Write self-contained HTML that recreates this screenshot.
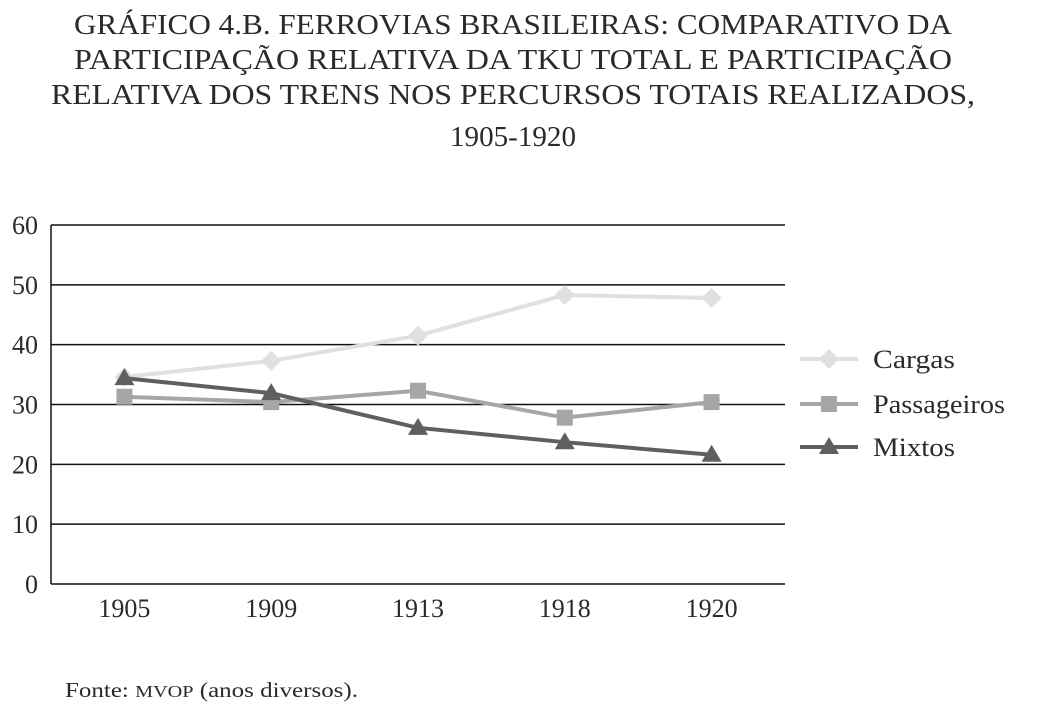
<!DOCTYPE html>
<html><head><meta charset="utf-8"><style>
body{margin:0;background:#fff;width:1040px;height:717px;overflow:hidden;font-family:"Liberation Serif",serif;color:#2a2a2a}
</style></head><body>
<svg width="1040" height="717" font-family="Liberation Serif, serif">
<g font-size="28" fill="#2a2a2a" text-anchor="middle">
<text x="513" y="34" textLength="878" lengthAdjust="spacingAndGlyphs">GRÁFICO 4.B. FERROVIAS BRASILEIRAS: COMPARATIVO DA</text>
<text x="513" y="69" textLength="878" lengthAdjust="spacingAndGlyphs">PARTICIPAÇÃO RELATIVA DA TKU TOTAL E PARTICIPAÇÃO</text>
<text x="513" y="104" textLength="924" lengthAdjust="spacingAndGlyphs">RELATIVA DOS TRENS NOS PERCURSOS TOTAIS REALIZADOS,</text>
<text x="513" y="146" textLength="126" lengthAdjust="spacingAndGlyphs">1905-1920</text>
</g>
<g id="grid"></g><g id="series"></g><g id="legend"></g>
<text x="65" y="697" font-size="21" fill="#2a2a2a" textLength="293" lengthAdjust="spacingAndGlyphs">Fonte: <tspan font-size="17">MVOP</tspan> (anos diversos).</text>
</svg>
<script>
const categories=["1905","1909","1913","1918","1920"];
const yTicks=[0,10,20,30,40,50,60];
const cargas=[34.6,37.3,41.5,48.3,47.8];
const passageiros=[31.3,30.4,32.3,27.8,30.4];
const mixtos=[34.4,31.9,26.1,23.7,21.6];
const names=["Cargas","Passageiros","Mixtos"];
const NS="http://www.w3.org/2000/svg";
const L=51,R=785,T=225,B=584;
const x=i=>L+(R-L)/categories.length*(i+0.5);
const y=v=>B-(B-T)*v/60;
function mk(tag,attrs,parent){const e=document.createElementNS(NS,tag);for(const k in attrs)e.setAttribute(k,attrs[k]);parent.appendChild(e);return e;}
const grid=document.getElementById('grid');
yTicks.forEach(t=>{
 const l=mk('line',{x1:L,x2:R,y1:y(t),y2:y(t),stroke:'#111','stroke-width':1.5},grid);
 
 
 const tx=mk('text',{x:38,y:y(t)+9,'font-size':26,'text-anchor':'end',fill:'#2a2a2a'},grid);tx.textContent=t;
 
 
});
const ax=mk('line',{x1:L,x2:L,y1:T,y2:B,stroke:'#111','stroke-width':1.5},grid);


categories.forEach((c,i)=>{
 const tx=mk('text',{x:x(i),y:617,'font-size':26,'text-anchor':'middle',fill:'#2a2a2a'},grid);tx.textContent=c;
 
 
});
const colors=['#e0e0e0','#a6a6a6','#5f5f5f'];
function marker(kind,cx,cy,col,g){
 if(kind===0)return mk('polygon',{points:`${cx},${cy-10} ${cx+10},${cy} ${cx},${cy+10} ${cx-10},${cy}`,fill:col},g);
 if(kind===1)return mk('rect',{x:cx-8,y:cy-8,width:16,height:16,fill:col},g);
 return mk('polygon',{points:`${cx},${cy-10} ${cx+10},${cy+7} ${cx-10},${cy+7}`,fill:col},g);
}
const sg=document.getElementById('series');
[cargas,passageiros,mixtos].forEach((arr,s)=>{
 const g=mk('g',{},sg);
 
 
 mk('polyline',{points:arr.map((v,i)=>x(i)+','+y(v)).join(' '),fill:'none',stroke:colors[s],'stroke-width':4},g);
 arr.forEach((v,i)=>{const m=marker(s,x(i),y(v),colors[s],g);
  
  });
});
const lg=document.getElementById('legend');
const lw=[82,132,82];
[359,404,447].forEach((ly,s)=>{
 const g=mk('g',{},lg);
 
 
 mk('line',{x1:800,x2:858,y1:ly,y2:ly,stroke:colors[s],'stroke-width':4},g);
 marker(s,829,ly,colors[s],g);
 const t=mk('text',{x:873,y:ly+9,'font-size':26,fill:'#2a2a2a',textLength:lw[s],lengthAdjust:'spacingAndGlyphs'},g);t.textContent=names[s];
});
</script>
</body></html>
